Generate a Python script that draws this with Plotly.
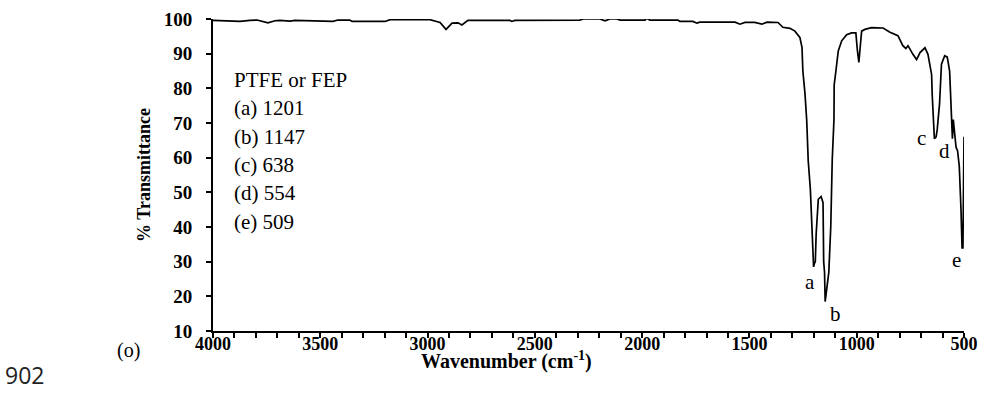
import plotly.graph_objects as go

# FTIR spectrum of PTFE / FEP (transmittance vs. wavenumber)
wavenumber = [
    4000, 3874, 3828, 3795, 3744, 3711, 3688, 3641, 3618, 3441, 3418, 3362, 3352,
    3198, 3175, 2989, 2942, 2914, 2886, 2858, 2840, 2812, 2616, 2607, 2593, 2290,
    2276, 2197, 2173, 2150, 2117, 2103, 1987, 1978, 1964, 1833, 1824, 1763, 1745,
    1731, 1567, 1544, 1521, 1475, 1442, 1418, 1367, 1344, 1311, 1288, 1265, 1255,
    1251, 1241, 1233, 1226, 1216, 1208, 1203, 1201, 1197, 1193, 1189, 1179, 1166,
    1157, 1154, 1150, 1147, 1143, 1130, 1121, 1114, 1106, 1105, 1097, 1086, 1070,
    1047, 1024, 1004, 997, 990, 985, 977, 962, 931, 877, 845, 808, 785, 771, 761,
    738, 721, 705, 682, 668, 651, 648, 642, 638, 630, 625, 614, 605, 590, 578,
    567, 560, 554, 550, 546, 537, 530, 522, 514, 509, 505, 500,
]
transmittance = [
    99.6, 99.3, 99.6, 99.7, 98.9, 99.5, 99.6, 99.4, 99.6, 99.3, 99.7, 99.7, 99.3,
    99.3, 99.8, 99.8, 99.0, 97.0, 98.8, 98.9, 98.3, 99.6, 99.6, 99.3, 99.6, 99.7,
    100.0, 100.0, 99.5, 100.0, 100.0, 99.7, 99.7, 100.2, 99.7, 99.7, 99.3, 99.3, 98.8,
    99.1, 99.1, 98.5, 99.0, 99.0, 98.5, 99.1, 99.0, 97.6, 97.3, 96.5, 94.7, 91.8,
    85.0, 78.4, 70.7, 59.1, 50.8, 39.3, 30.0, 28.5, 29.5, 30.0, 38.0, 48.0, 48.8,
    47.0, 30.0, 27.0, 18.5, 21.0, 27.0, 40.0, 59.5, 71.0, 81.0, 85.0, 90.8, 93.7,
    95.5, 96.0, 96.0, 91.0, 87.5, 91.0, 96.5, 97.0, 97.5, 97.4, 96.2, 95.2, 92.3, 91.5, 92.3,
    89.8, 88.3, 90.3, 91.7, 89.8, 84.0, 78.0, 67.3, 65.5, 66.0, 68.0, 75.5, 87.0, 89.4, 89.0,
    85.0, 71.7, 65.5, 71.0, 69.0, 63.0, 62.0, 57.5, 45.0, 34.0, 34.0, 66.0,
]

# Band assignments listed in the inset text
legend_lines = ["PTFE or FEP", "(a) 1201", "(b) 1147", "(c) 638", "(d) 554", "(e) 509"]

# Peak letters placed next to the absorption minima
peak_letters = ["a", "b", "c", "d", "e"]
peak_letter_x = [1218, 1097, 696, 591, 533]
peak_letter_y = [24.0, 14.8, 65.8, 61.9, 30.6]

y_ticks = [10, 20, 30, 40, 50, 60, 70, 80, 90, 100]
x_ticks = [4000, 3500, 3000, 2500, 2000, 1500, 1000, 500]

serif = "Liberation Serif"

W, H = 984, 394
ML, MR, MT, MB = 213, 20, 18.5, 62.5
pw, ph = W - ML - MR, H - MT - MB


def px_to_paper(px, py):
    """Pixel position on the page -> paper coordinates of the plot area."""
    return (px - ML) / pw, (H - py - MB) / ph


fig = go.Figure()
fig.add_trace(go.Scatter(
    x=wavenumber, y=transmittance, mode="lines",
    line=dict(color="black", width=1.7),
    hoverinfo="skip", showlegend=False,
))

annotations = []
# inset block of band positions
for i, txt in enumerate(legend_lines):
    annotations.append(dict(
        x=3910, y=82.4 - 8.17 * i, xref="x", yref="y",
        text=txt, showarrow=False, xanchor="left", yanchor="middle",
        font=dict(family=serif, size=21, color="black"),
    ))
for lbl, lx, ly in zip(peak_letters, peak_letter_x, peak_letter_y):
    annotations.append(dict(
        x=lx, y=ly, xref="x", yref="y", text=lbl, showarrow=False,
        xanchor="center", yanchor="middle",
        font=dict(family=serif, size=21, color="black"),
    ))
# x-axis title, set close under the tick labels
tx, ty = px_to_paper(506, 361)
annotations.append(dict(
    x=tx, y=ty, xref="paper", yref="paper", text="Wavenumber (cm<sup>-1</sup>)",
    showarrow=False, xanchor="center", yanchor="middle",
    font=dict(family=serif, size=20, color="black", weight="bold"),
))
# panel tag and line number
ox, oy = px_to_paper(128, 351)
annotations.append(dict(
    x=ox, y=oy, xref="paper", yref="paper", text="(o)", showarrow=False,
    xanchor="center", yanchor="middle",
    font=dict(family=serif, size=20, color="black"),
))
nx, ny = px_to_paper(24, 376)
annotations.append(dict(
    x=nx, y=ny, xref="paper", yref="paper", text="902", showarrow=False,
    xanchor="center", yanchor="middle",
    font=dict(family="Open Sans", size=23, color="#222"),
))

fig.update_layout(
    width=W, height=H,
    margin=dict(l=ML, r=MR, t=MT, b=MB, autoexpand=False),
    paper_bgcolor="white", plot_bgcolor="white",
    annotations=annotations,
    xaxis=dict(
        range=[4000, 500], tickvals=x_ticks, ticktext=[str(v) for v in x_ticks],
        showgrid=False, zeroline=False, showline=True, linecolor="black", linewidth=2,
        ticks="outside", ticklen=5, tickwidth=1.5, tickcolor="black",
        minor=dict(dtick=100, ticks="outside", ticklen=5, tickwidth=1.5, tickcolor="black"),
        tickfont=dict(family=serif, size=18, color="black", weight="bold"),
        ticklabelstandoff=-10,
    ),
    yaxis=dict(
        range=[10, 100], tickvals=y_ticks,
        showgrid=False, zeroline=False, showline=True, linecolor="black", linewidth=2,
        ticks="outside", ticklen=5, tickwidth=1.5, tickcolor="black",
        tickfont=dict(family=serif, size=19, color="black", weight="bold"),
        ticklabelstandoff=10,
        title=dict(text="% Transmittance", standoff=8,
                   font=dict(family=serif, size=18, color="black", weight="bold")),
    ),
)
# short extension of the y axis line above the top tick
fig.add_shape(type="line", xref="paper", yref="y", x0=0, x1=0, y0=100, y1=101.9,
              line=dict(color="black", width=2))

fig.write_html("out.html")
